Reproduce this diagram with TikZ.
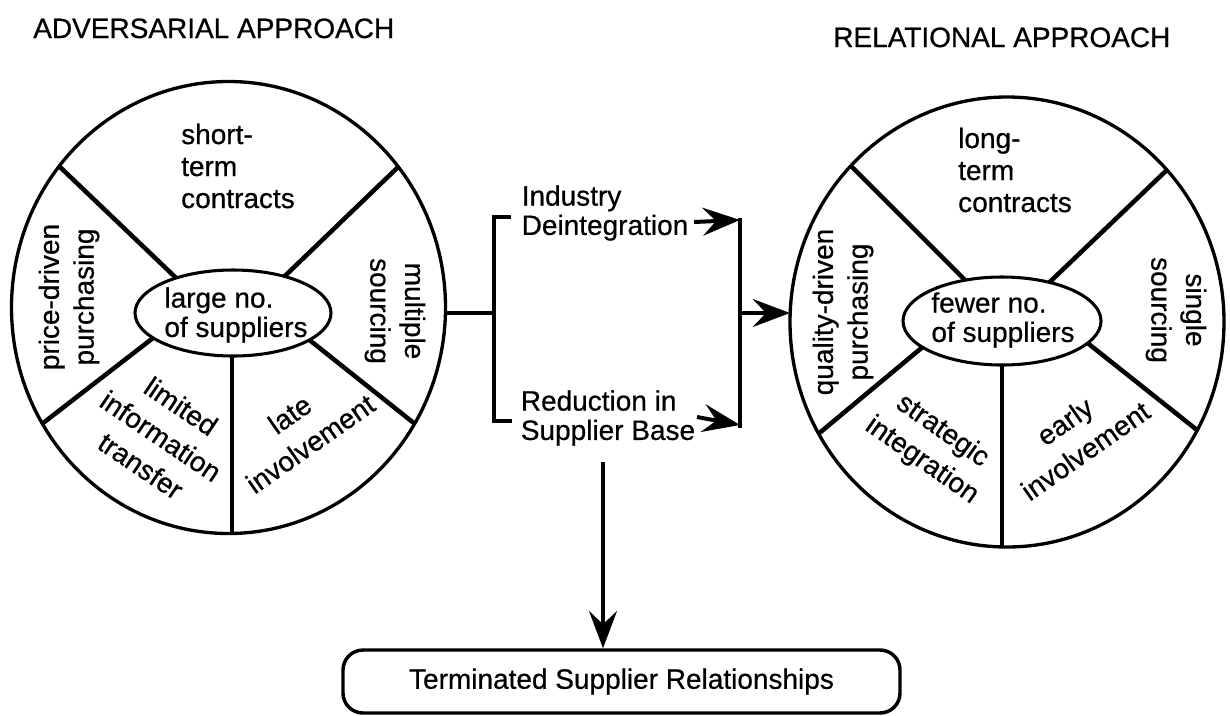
\documentclass[tikz,border=0pt]{standalone}
\usepackage{fontspec}
\setmainfont{Liberation Sans}[FakeBold=0.6]
\usetikzlibrary{shapes.geometric,arrows.meta,calc}
\begin{document}
\begin{tikzpicture}[x=0.75pt,y=-0.75pt,
  lbl/.style={inner sep=0pt, font=\fontsize{21}{24}\selectfont, align=center},
  vlbl/.style={lbl, font=\fontsize{21}{26}\selectfont},
  dlbl/.style={lbl, font=\fontsize{21}{27}\selectfont},
  tlbl/.style={lbl, font=\fontsize{21}{22}\selectfont, align=left},
  title/.style={inner sep=0pt, anchor=base west, font=\fontsize{21}{24}\selectfont},
  rim/.style={line width=2.5pt},
  spoke/.style={line width=3.4pt},
  hub/.style={line width=2.3pt, fill=white},
  conn/.style={line width=3pt},
  arr/.style={line width=3pt, -{Stealth[length=28pt,width=21pt,inset=10pt]}},
  termbox/.style={draw, line width=2.6pt, rounded corners=15pt, minimum width=417.75pt, minimum height=47.25pt, inner sep=0pt, font=\fontsize{21}{24}\selectfont}
]
\useasboundingbox (0,0) rectangle (1230,715);

% titles
\node[title] (tl) at (33,38) {ADVERSARIAL APPROACH};
\node[title] (tr) at (833,47) {RELATIONAL APPROACH};

% ---------- left wheel ----------
\begin{scope}
  \clip (228.5,307.5) ellipse [x radius=217, y radius=226];
  \draw[spoke] ($(173,275)!-0.3!(60,167)$) -- ($(173,275)!1.3!(60,167)$);
  \draw[spoke] ($(288,273)!-0.3!(395,170)$) -- ($(288,273)!1.3!(395,170)$);
  \draw[spoke] ($(153,338)!-0.3!(47,420)$) -- ($(153,338)!1.3!(47,420)$);
  \draw[spoke] ($(312,342)!-0.3!(410,420)$) -- ($(312,342)!1.3!(410,420)$);
  \draw[spoke] (232,330) -- (232,560);
\end{scope}
\draw[rim] (228.5,307.5) ellipse [x radius=217, y radius=226];
\draw[hub] (233,313) ellipse [x radius=98, y radius=43];

\node[lbl, align=left] (Lst) at (238,166) {short-\\term\\contracts};
\node[vlbl, rotate=90] (Lpd) at (69,297) {price-driven\\purchasing};
\node[vlbl, rotate=-90] (Lms) at (395,311) {multiple\\sourcing};
\node[tlbl] (Llg) at (236,315) {large no.\\of suppliers};
\node[dlbl, rotate=-34] (Llim) at (161,436) {limited\\information\\transfer};
\node[dlbl, rotate=35] (Llate) at (300,429) {late\\involvement};

% ---------- right wheel ----------
\begin{scope}
  \clip (1007,322) ellipse [x radius=217, y radius=225];
  \draw[spoke] ($(962,277)!-0.3!(852,167)$) -- ($(962,277)!1.3!(852,167)$);
  \draw[spoke] ($(1055,277)!-0.3!(1170,167)$) -- ($(1055,277)!1.3!(1170,167)$);
  \draw[spoke] ($(925,345)!-0.3!(823,430)$) -- ($(925,345)!1.3!(823,430)$);
  \draw[spoke] ($(1090,345)!-0.3!(1197,430)$) -- ($(1090,345)!1.3!(1197,430)$);
  \draw[spoke] (1002,340) -- (1002,570);
\end{scope}
\draw[rim] (1007,322) ellipse [x radius=217, y radius=225];
\draw[hub] (1002,321) ellipse [x radius=99, y radius=44];

\node[lbl, align=left] (Rlt) at (1015,170) {long-\\term\\contracts};
\node[vlbl, rotate=90] (Rqd) at (843,312) {quality-driven\\purchasing};
\node[vlbl, rotate=-90] (Rss) at (1176,310) {single\\sourcing};
\node[tlbl] (Rfew) at (1003,320) {fewer no.\\of suppliers};
\node[dlbl, rotate=-35] (Rsi) at (932,446) {strategic\\integration};
\node[dlbl, rotate=35] (Rei) at (1075,436) {early\\involvement};

% ---------- middle ----------
\node[tlbl] (ind) at (605,213) {Industry\\Deintegration};
\node[tlbl] (red) at (608,418) {Reduction in\\Supplier Base};
\node[termbox] (term) at (621.5,681.5) {Terminated Supplier Relationships};

\coordinate (LE) at (445.5,313);
\coordinate (BL) at (494,313);
\coordinate (BT) at (494,217);
\coordinate (BTe) at (511,217);
\coordinate (BB) at (494,421);
\coordinate (BBe) at (512,421);
\coordinate (RT) at (740,218);
\coordinate (RB) at (740,428);
\coordinate (RM) at (740,313);
\coordinate (RCW) at (790,313);
\coordinate (A1s) at (694,222);
\coordinate (A1e) at (740,220);
\coordinate (A2s) at (697,417);
\coordinate (A2e) at (740,425);
\coordinate (Ds) at (603,462);

\draw[conn] (LE) -- (BL);
\draw[conn] (BTe) -- (BT) -- (BB) -- (BBe);
\draw[conn] (RT) -- (RB);
\draw[arr] (A1s) -- (A1e);
\draw[arr] (A2s) -- (A2e);
\draw[arr] (RM) -- (RCW);
\draw[arr] (Ds) -- (Ds |- term.north);
\end{tikzpicture}
\end{document}
